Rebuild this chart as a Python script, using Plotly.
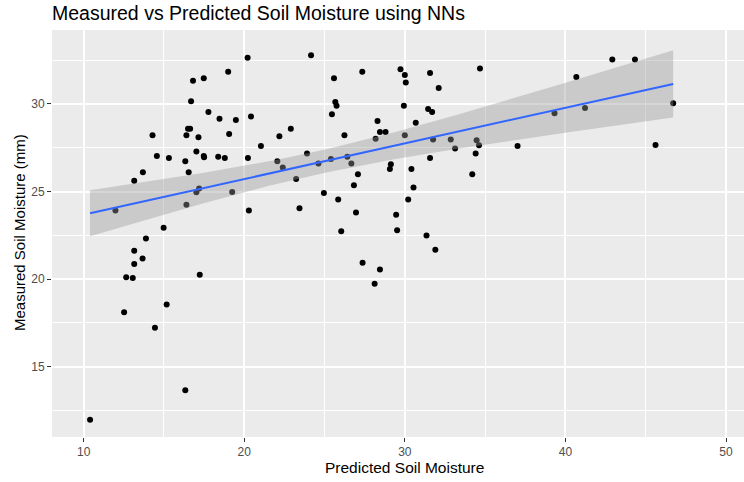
import numpy as np
import plotly.graph_objects as go

# Predicted (x) and measured (y) soil moisture
predicted = [
    20.21, 19.00, 17.48, 16.81, 16.69, 17.77, 18.46, 19.48, 20.42, 16.50,
    16.63, 14.29, 16.40, 17.15, 19.06, 22.19, 22.90, 21.04, 14.56, 15.31,
    17.02, 16.33, 17.48, 17.50, 18.38, 18.79, 20.23, 22.06, 22.40, 13.69,
    16.54, 13.15, 17.02, 17.19, 19.25, 16.40, 11.98, 20.29, 14.98, 13.88,
    13.15, 13.67, 13.15, 12.65, 13.06, 17.23, 15.17, 12.52, 14.44, 16.33,
    10.40,
    24.16, 25.59, 27.35, 29.73, 30.00, 30.06, 31.57, 32.11, 34.68, 25.67,
    25.75, 25.46, 29.94, 31.45, 31.70, 28.30, 30.68, 28.45, 28.80, 26.24,
    28.18, 30.00, 31.76, 32.86, 34.47, 34.62, 33.13, 23.91, 25.40, 26.42,
    24.62, 26.67, 31.57, 34.41, 23.23, 27.08, 29.13, 29.07, 30.41, 26.83,
    30.54, 34.20, 24.96, 25.85, 30.21, 23.44, 26.96, 29.46, 26.04, 29.52,
    31.35, 31.90, 27.37, 28.45, 28.12,
    37.02, 39.32, 40.68, 41.22, 42.92, 44.33, 45.61, 46.71,
]
measured = [
    32.64, 31.84, 31.46, 31.33, 30.15, 29.54, 29.16, 29.09, 29.28, 28.59,
    28.59, 28.21, 28.21, 28.10, 28.29, 28.16, 28.59, 27.60, 27.03, 26.92,
    27.28, 26.73, 27.03, 26.96, 26.98, 26.92, 26.92, 26.73, 26.37, 26.10,
    26.10, 25.61, 24.96, 25.17, 24.98, 24.24, 23.92, 23.92, 22.93, 22.32,
    21.62, 21.18, 20.86, 20.11, 20.06, 20.25, 18.55, 18.11, 17.23, 13.66,
    11.97,
    32.78, 31.46, 31.84, 31.98, 31.65, 31.22, 31.77, 30.91, 32.02, 30.11,
    29.90, 29.41, 29.90, 29.71, 29.54, 29.03, 28.92, 28.40, 28.40, 28.21,
    28.02, 28.21, 27.97, 27.97, 27.93, 27.64, 27.45, 27.17, 26.86, 26.98,
    26.60, 26.60, 26.92, 27.17, 25.72, 25.99, 26.56, 26.29, 26.29, 25.36,
    25.23, 25.99, 24.92, 24.54, 24.54, 24.05, 23.80, 23.67, 22.74, 22.79,
    22.49, 21.68, 20.94, 20.55, 19.73,
    27.60, 29.47, 31.54, 29.77, 32.53, 32.53, 27.66, 30.04,
]

x_ticks = [10, 20, 30, 40, 50]
y_ticks = [15, 20, 25, 30]

# Linear model (geom_smooth(method = "lm")) with 95% confidence band
x = np.array(predicted)
y = np.array(measured)
n = len(x)
slope, intercept = np.polyfit(x, y, 1)
resid = y - (intercept + slope * x)
s = np.sqrt(np.sum(resid ** 2) / (n - 2))
xbar = x.mean()
sxx = np.sum((x - xbar) ** 2)
t_crit = 1.980
xs = np.linspace(x.min(), x.max(), 80)
fit = intercept + slope * xs
se = s * np.sqrt(1.0 / n + (xs - xbar) ** 2 / sxx)
lower = fit - t_crit * se
upper = fit + t_crit * se

fig = go.Figure()
fig.add_trace(go.Scatter(
    x=predicted, y=measured, mode="markers",
    marker=dict(color="black", size=6, line=dict(width=0)),
    showlegend=False, hoverinfo="x+y",
))
fig.add_trace(go.Scatter(
    x=xs, y=lower, mode="lines", line=dict(width=0, color="rgba(0,0,0,0)"),
    showlegend=False, hoverinfo="skip",
))
fig.add_trace(go.Scatter(
    x=xs, y=upper, mode="lines", line=dict(width=0, color="rgba(0,0,0,0)"),
    fill="tonexty", fillcolor="rgba(153,153,153,0.4)",
    showlegend=False, hoverinfo="skip",
))
fig.add_trace(go.Scatter(
    x=xs, y=fit, mode="lines", line=dict(color="#3366FF", width=2),
    showlegend=False, hoverinfo="skip",
))

font_family = "Liberation Sans, Arial, sans-serif"
W, H = 744, 482
ml, mr, mt, mb = 52, 0, 30, 45
pw = W - ml - mr
ph = H - mt - mb

fig.update_layout(
    width=W, height=H,
    margin=dict(l=ml, r=mr, t=mt, b=mb, pad=0),
    paper_bgcolor="white", plot_bgcolor="#EBEBEB",
    font=dict(family=font_family, color="#4D4D4D"),
    title=dict(
        text="Measured vs Predicted Soil Moisture using NNs",
        font=dict(size=19.5, color="black", family=font_family),
        x=0, xref="paper", xanchor="left",
        y=1 - 13.5 / H, yref="container", yanchor="middle",
    ),
    xaxis=dict(
        range=[8.03, 51.12], tickmode="array", tickvals=x_ticks,
        ticktext=[str(v) for v in x_ticks],
        ticks="outside", ticklen=4, tickwidth=1, tickcolor="#333333",
        tickfont=dict(size=12, color="#4D4D4D"),
        showgrid=True, gridcolor="white", gridwidth=1.6,
        minor=dict(tickvals=[15, 25, 35, 45], showgrid=True,
                   gridcolor="white", gridwidth=0.8, ticks=""),
        zeroline=False, showline=False,
    ),
    yaxis=dict(
        range=[10.99, 34.22], tickmode="array", tickvals=y_ticks,
        ticktext=[str(v) for v in y_ticks],
        ticks="outside", ticklen=4, tickwidth=1, tickcolor="#333333",
        tickfont=dict(size=12, color="#4D4D4D"),
        showgrid=True, gridcolor="white", gridwidth=1.6,
        minor=dict(tickvals=[12.5, 17.5, 22.5, 27.5, 32.5], showgrid=True,
                   gridcolor="white", gridwidth=0.8, ticks=""),
        zeroline=False, showline=False,
    ),
    annotations=[
        dict(text="Predicted Soil Moisture", xref="paper", yref="paper",
             x=(404 - ml) / pw, y=-(467 - (H - mb)) / ph,
             xanchor="center", yanchor="middle", showarrow=False,
             font=dict(size=15.5, color="black", family=font_family)),
        dict(text="Measured Soil Moisture (mm)", xref="paper", yref="paper",
             x=(19 - ml) / pw, y=1 - (233 - mt) / ph, textangle=-90,
             xanchor="center", yanchor="middle", showarrow=False,
             font=dict(size=15, color="black", family=font_family)),
    ],
)

fig.write_html("out.html")
